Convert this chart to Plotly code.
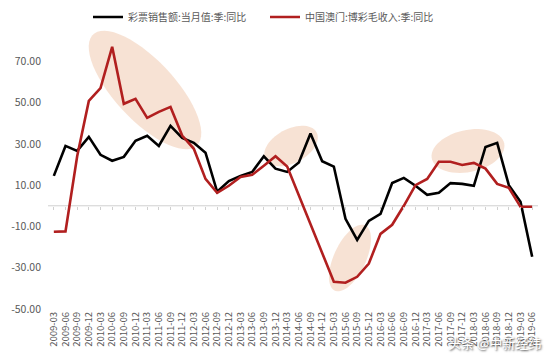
import numpy as np
import plotly.graph_objects as go

# ---- data ----
years = list(range(2009, 2020))
quarters = ["03", "06", "09", "12"]
categories = [f"{y}-{q}" for y in years for q in quarters][:42]  # 2009-03 .. 2019-06

lottery_name = "彩票销售额:当月值:季:同比"
lottery = [14.5, 29.0, 26.6, 33.4, 24.7, 21.8, 23.7, 31.5, 33.9, 29.0,
           38.7, 32.9, 30.5, 25.7, 6.8, 12.0, 14.5, 16.4, 24.0, 18.0,
           16.4, 21.0, 35.0, 21.6, 19.0, -6.3, -16.5, -7.3, -3.9, 11.0,
           13.5, 9.7, 5.3, 6.3, 11.0, 10.6, 9.7, 28.5, 30.5, 10.0,
           2.0, -24.7]

macau_name = "中国澳门:博彩毛收入:季:同比"
macau = [-12.6, -12.4, 24.0, 50.8, 57.0, 77.0, 49.4, 51.8, 42.6, 45.5,
         47.9, 34.0, 27.6, 13.0, 6.3, 9.7, 14.0, 15.0, 19.4, 24.0,
         19.0, 5.0, -9.6, -23.7, -36.8, -37.3, -34.4, -28.0, -13.6, -9.2,
         0.0, 10.0, 13.0, 21.3, 21.3, 19.8, 20.8, 18.0, 10.6, 8.7,
         -0.5, -0.5]

y_ticks = [-50, -30, -10, 10, 30, 50, 70]

# ---- layout geometry ----
OFF = 8  # page body margin
W, H = 554, 363
ML, MR, MT, MB = 48 - OFF, 16 + OFF, 20 - OFF, 54 + OFF
YMIN, YMAX = -50, 90
n = len(categories)
pw = W - ML - MR
ph = H - MT - MB
step = pw / n
ypx = ph / (YMAX - YMIN)


def ellipse_path(cx_px, cy_px, a, b, ang_deg, npts=60):
    # centre given in screenshot pixels
    t = np.linspace(0, 2 * np.pi, npts)
    th = np.radians(ang_deg)
    px = cx_px - OFF + a * np.cos(t) * np.cos(th) - b * np.sin(t) * np.sin(th)
    py = cy_px - OFF + a * np.cos(t) * np.sin(th) + b * np.sin(t) * np.cos(th)
    xi = (px - ML) / step - 0.5
    yv = YMAX - (py - MT) / ypx
    pts = [f"{x:.3f},{y:.3f}" for x, y in zip(xi, yv)]
    return "M" + " L".join(pts) + " Z"


fig = go.Figure()
xi = list(range(n))
fig.add_trace(go.Scatter(x=xi, y=lottery, name=lottery_name, mode="lines",
                         line=dict(color="#000000", width=2.6), legend="legend"))
fig.add_trace(go.Scatter(x=xi, y=macau, name=macau_name, mode="lines",
                         line=dict(color="#B11F1F", width=2.6), legend="legend2"))

ell_fill = "rgba(238,190,160,0.45)"
for (cx, cy, a, b, ang) in [(145, 90, 76, 30, 47), (291, 146, 29, 17, -28),
                            (350, 258, 36, 16, -65), (468, 151, 37, 21, -12)]:
    fig.add_shape(type="path", path=ellipse_path(cx, cy, a, b, ang),
                  xref="x", yref="y", fillcolor=ell_fill, line=dict(width=0),
                  layer="below")

# zero line axis
fig.add_shape(type="line", xref="x", yref="y", x0=-0.5, x1=n - 0.5, y0=0, y1=0,
              line=dict(color="#D0D0D0", width=1), layer="below")

leg_y = 1 + (MT - (17 - OFF)) / ph
leg_common = dict(orientation="h", y=leg_y, xanchor="left", yanchor="middle",
                  font=dict(size=10, color="#595959"), itemwidth=30,
                  bgcolor="rgba(0,0,0,0)")

fig.update_layout(
    width=W, height=H,
    margin=dict(l=ML, r=MR, t=MT, b=MB, autoexpand=False),
    paper_bgcolor="white", plot_bgcolor="white",
    font=dict(family="Noto Sans CJK SC, sans-serif", size=10, color="#595959"),
    showlegend=True,
    legend=dict(x=(88 - OFF - ML) / pw, **leg_common),
    legend2=dict(x=(265 - OFF - ML) / pw, **leg_common),
    xaxis=dict(range=[-0.5, n - 0.5], tickmode="array", tickvals=xi,
               ticktext=categories, tickangle=-90, showgrid=False,
               zeroline=False, showline=False, ticks="",
               tickfont=dict(size=9.5, color="#595959"), automargin=False),
    xaxis2=dict(range=[-0.5, n - 0.5], overlaying="x", anchor="free",
                position=(0 - YMIN) / (YMAX - YMIN), showline=False,
                ticks="outside", ticklen=3, tickcolor="#D0D0D0",
                tickmode="linear", tick0=0, dtick=1, showticklabels=False,
                showgrid=False, zeroline=False, side="bottom", automargin=False),
    yaxis=dict(range=[YMIN, YMAX], tickmode="array", tickvals=y_ticks,
               ticktext=[f"{v:.2f}" for v in y_ticks], showgrid=False,
               zeroline=False, showline=False, ticks="", ticklabelstandoff=6,
               tickfont=dict(size=10.5, color="#595959"), automargin=False),
)
# dummy invisible trace to activate xaxis2 ticks
fig.add_trace(go.Scatter(x=[0], y=[0], xaxis="x2", mode="markers",
                         marker=dict(opacity=0), showlegend=False, hoverinfo="skip"))

fig.add_annotation(text="头条 @中新经纬", xref="paper", yref="paper",
                   x=(543 - OFF - ML) / pw, y=-(342 - OFF - (MT + ph)) / ph,
                   xanchor="right", yanchor="middle",
                   showarrow=False,
                   font=dict(size=13, color="white", shadow="1px 1px 2px #444"))

fig.write_html("out.html")
